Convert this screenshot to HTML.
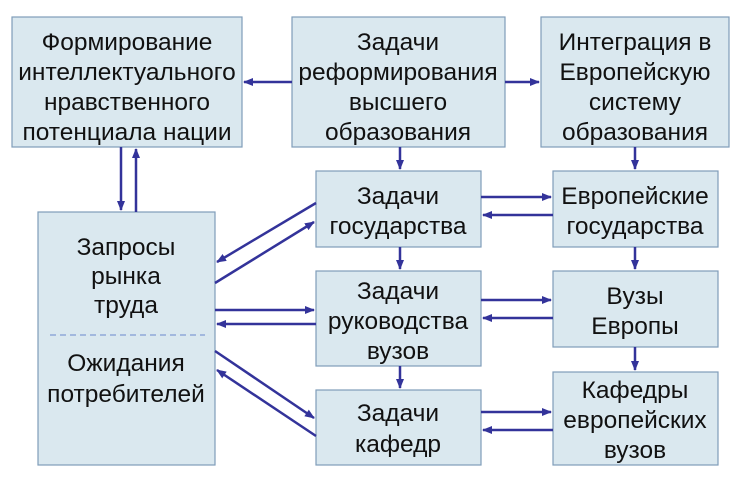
<!DOCTYPE html>
<html><head><meta charset="utf-8"><style>
body{margin:0;background:#fff}
svg text{font-family:"Liberation Sans",Arial,sans-serif;font-size:24.5px;fill:#111;text-anchor:middle}
</style></head><body>
<svg width="738" height="477" xmlns="http://www.w3.org/2000/svg">
<defs><marker id="a" markerWidth="10" markerHeight="10" refX="9" refY="5" orient="auto" markerUnits="userSpaceOnUse"><path d="M0,1 L10,5 L0,9 z" fill="#33339a"/></marker></defs>
<g fill="#dae8ef" stroke="#7f9db9" stroke-width="1.2">
<rect x="12" y="17" width="230" height="130"/>
<rect x="292" y="17" width="213" height="130"/>
<rect x="541" y="17" width="188" height="130"/>
<rect x="38" y="212" width="177" height="253"/>
<rect x="316" y="171" width="165" height="76"/>
<rect x="316" y="271" width="165" height="95"/>
<rect x="316" y="390" width="165" height="75"/>
<rect x="553" y="171" width="165" height="76"/>
<rect x="553" y="271" width="165" height="76"/>
<rect x="553" y="372" width="165" height="93"/>
</g>
<line x1="50" y1="335" x2="205" y2="335" stroke="#8fa8d8" stroke-width="1.5" stroke-dasharray="6,4"/>
<g stroke="#33339a" stroke-width="2.5" marker-end="url(#a)">
<line x1="292" y1="82" x2="244" y2="82"/>
<line x1="505" y1="82" x2="539" y2="82"/>
<line x1="400" y1="147" x2="400" y2="169"/>
<line x1="635" y1="147" x2="635" y2="169"/>
<line x1="481" y1="197" x2="551" y2="197"/>
<line x1="553" y1="215" x2="483" y2="215"/>
<line x1="481" y1="300" x2="551" y2="300"/>
<line x1="553" y1="318" x2="483" y2="318"/>
<line x1="481" y1="412" x2="551" y2="412"/>
<line x1="553" y1="430" x2="483" y2="430"/>
<line x1="635" y1="247" x2="635" y2="269"/>
<line x1="635" y1="347" x2="635" y2="370"/>
<line x1="400" y1="247" x2="400" y2="269"/>
<line x1="400" y1="366" x2="400" y2="388"/>
<line x1="121" y1="147" x2="121" y2="210"/>
<line x1="136" y1="212" x2="136" y2="149"/>
<line x1="316" y1="203" x2="217" y2="262"/>
<line x1="215" y1="283" x2="314" y2="222"/>
<line x1="215" y1="310" x2="314" y2="310"/>
<line x1="316" y1="324" x2="217" y2="324"/>
<line x1="215" y1="351" x2="314" y2="418"/>
<line x1="316" y1="436" x2="217" y2="370"/>
</g>
<text x="127" y="50">Формирование</text>
<text x="127" y="80">интеллектуального</text>
<text x="127" y="110">нравственного</text>
<text x="127" y="140">потенциала нации</text>
<text x="398" y="50">Задачи</text>
<text x="398" y="80">реформирования</text>
<text x="398" y="110">высшего</text>
<text x="398" y="140">образования</text>
<text x="635" y="50">Интеграция в</text>
<text x="635" y="80">Европейскую</text>
<text x="635" y="110">систему</text>
<text x="635" y="140">образования</text>
<text x="398" y="204">Задачи</text>
<text x="398" y="234">государства</text>
<text x="398" y="299">Задачи</text>
<text x="398" y="329">руководства</text>
<text x="398" y="359">вузов</text>
<text x="398" y="421">Задачи</text>
<text x="398" y="452">кафедр</text>
<text x="635" y="204">Европейские</text>
<text x="635" y="234">государства</text>
<text x="635" y="304">Вузы</text>
<text x="635" y="334">Европы</text>
<text x="635" y="398">Кафедры</text>
<text x="635" y="428">европейских</text>
<text x="635" y="458">вузов</text>
<text x="126" y="255">Запросы</text>
<text x="126" y="284">рынка</text>
<text x="126" y="313">труда</text>
<text x="126" y="371">Ожидания</text>
<text x="126" y="402">потребителей</text>
</svg>
</body></html>
